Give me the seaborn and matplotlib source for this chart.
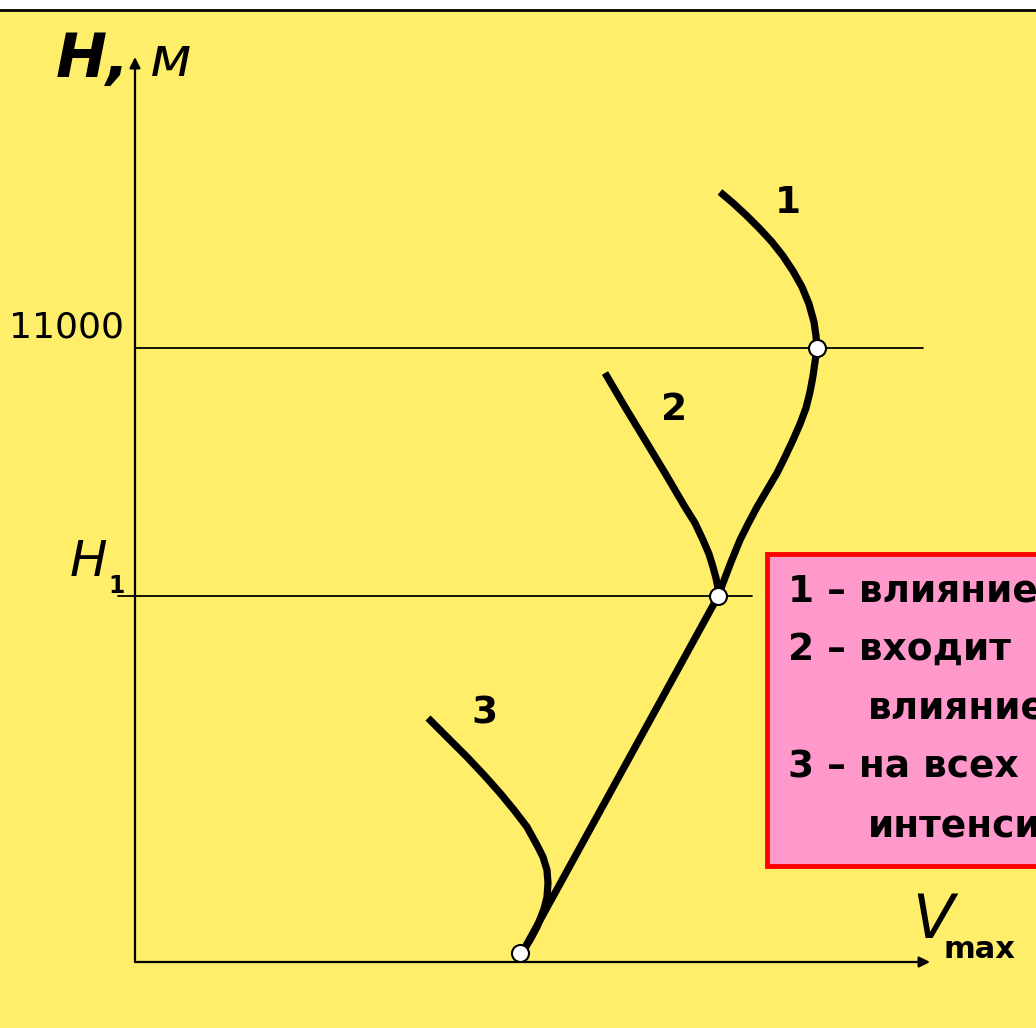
import matplotlib
matplotlib.use("Agg")
import matplotlib.pyplot as plt
import matplotlib.patches as mpatches
from matplotlib.lines import Line2D
import seaborn as sns
import pandas as pd

# ---------------- data (V in arbitrary units, H in metres) ----------------
# main curve: from the lower point up through H1 and 11000 m to the top end of curve 1
main_v = [3.87, 5.83, 5.88, 5.96, 6.05, 6.13, 6.22, 6.32, 6.42, 6.50, 6.58, 6.65,
          6.71, 6.75, 6.78, 6.80, 6.82,
          6.81, 6.79, 6.74, 6.67, 6.58, 6.48, 6.37, 6.25, 6.12, 5.98, 5.85]
main_h = [161, 6550, 6790, 7166, 7560, 7847, 8151, 8456, 8760, 9047, 9352, 9638,
          9925, 10212, 10498, 10749, 11000,
          11215, 11466, 11788, 12093, 12379, 12648, 12899, 13132, 13365, 13597, 13795]

curve2_v = [4.70, 4.90, 5.10, 5.30, 5.50, 5.60, 5.68, 5.74, 5.78, 5.81, 5.83, 5.83]
curve2_h = [10552, 9943, 9352, 8760, 8151, 7865, 7560, 7309, 7076, 6879, 6700, 6550]

curve3_v = [2.93, 3.12, 3.32, 3.49, 3.65, 3.79, 3.92, 4.03, 4.08, 4.12, 4.13,
            4.12, 4.09, 4.02, 3.95, 3.87]
curve3_h = [4371, 4031, 3673, 3350, 3028, 2723, 2419, 2060, 1881, 1648, 1415,
            1164, 950, 627, 394, 161]

point_v = [6.82, 5.83, 3.85]
point_h = [11000, 6550, 161]

H_LEVEL = 11000
H1_LEVEL = 6550
curve_labels = ["1", "2", "3"]
legend_lines = ["1 – влияние", "2 – входит", "влияние", "3 – на всех", "интенсивность"]

# ---------------- figure ----------------
W, Hpx = 1036, 1028
sns.set_theme(style="white")
plt.rcParams['font.family'] = ['DejaVu Sans']
plt.rcParams['text.color'] = 'black'

YELLOW = "#FFEE6A"
fig = plt.figure(figsize=(W / 100, Hpx / 100), dpi=100, facecolor="white")
ax = fig.add_axes([0, 0, 1, 1])
ax.set_facecolor(YELLOW)

mpp = 11000 / 614.0  # metres per pixel
ax.set_xlim(-1.35, 9.01)
ax.set_ylim(-66 * mpp, 962 * mpp)
for s in ax.spines.values():
    s.set_visible(False)
ax.set_xticks([]); ax.set_yticks([])

def fx(px):
    return px / W
def fy(py):
    return 1 - py / Hpx

# top white strip and black rule
fig.patches.append(mpatches.Rectangle((0, fy(9)), 1, 9 / Hpx, transform=fig.transFigure,
                                      facecolor="white", edgecolor="none", zorder=10))
fig.lines.append(Line2D([0, 1], [fy(10), fy(10)], transform=fig.transFigure,
                        color="black", lw=2, zorder=11))

# axes arrows
ax.annotate("", xy=(7.95, 0), xytext=(0, 0),
            arrowprops=dict(arrowstyle="-|>", color="black", lw=1.6,
                            mutation_scale=16, shrinkA=0, shrinkB=0))
ax.annotate("", xy=(0, 16213), xytext=(0, 0),
            arrowprops=dict(arrowstyle="-|>", color="black", lw=1.6,
                            mutation_scale=16, shrinkA=0, shrinkB=0))

# reference lines
ax.plot([0, 7.88], [H_LEVEL, H_LEVEL], color="black", lw=1.3)
ax.plot([-0.17, 6.17], [H1_LEVEL, H1_LEVEL], color="black", lw=1.3)

# curves
for v, h in [(main_v, main_h), (curve2_v, curve2_h), (curve3_v, curve3_h)]:
    df = pd.DataFrame({"V": v, "H": h})
    sns.lineplot(data=df, x="V", y="H", sort=False, estimator=None, ax=ax,
                 color="black", lw=5.2, solid_capstyle="butt", solid_joinstyle="round")

sns.scatterplot(x=point_v, y=point_h, ax=ax, s=150, color="white",
                edgecolor="black", linewidth=1.5, zorder=5)
ax.set_xlabel(""); ax.set_ylabel("")

# curve labels
lab_pos = [(788, 203), (674, 410), (484, 714)]
for t, (x, y) in zip(curve_labels, lab_pos):
    fig.text(fx(x), fy(y), t, fontsize=27, fontweight="bold", ha="center", va="center")

# axis labels
fig.text(fx(56), fy(77), "H,", fontsize=44, fontweight="bold", style="italic",
         ha="left", va="baseline")
fig.text(fx(150), fy(76), "м", fontsize=40, style="italic", ha="left", va="baseline")
fig.text(fx(9), fy(338), "11000", fontsize=26, ha="left", va="baseline")
fig.text(fx(70), fy(576), "H", fontsize=36, style="italic", ha="left", va="baseline")
fig.text(fx(108), fy(593), "1", fontsize=17, fontweight="bold", ha="left", va="baseline")
fig.text(fx(912), fy(938), "V", fontsize=44, style="italic", ha="left", va="baseline")
fig.text(fx(944), fy(958), "max", fontsize=22, fontweight="bold", ha="left", va="baseline")

# legend box
fig.patches.append(mpatches.Rectangle((fx(767), fy(866)), (1100 - 767) / W, (866 - 554) / Hpx,
                                      transform=fig.transFigure, facecolor="#FF99CC",
                                      edgecolor="#FF0000", lw=3.5, zorder=3))
rows = [(788, 592), (788, 650), (868, 709), (788, 768), (868, 828)]
for t, (x, y) in zip(legend_lines, rows):
    fig.text(fx(x), fy(y), t, fontsize=27, fontweight="bold", ha="left", va="center",
             zorder=4)

fig.savefig("out.png", dpi=100, facecolor="white")
